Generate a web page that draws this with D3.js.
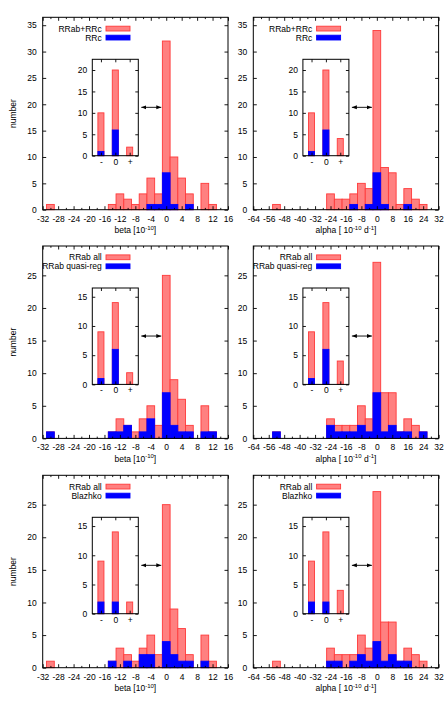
<!DOCTYPE html>
<html>
<head>
<meta charset="utf-8">
<script src="https://cdn.jsdelivr.net/npm/d3@7"></script>
<style>
body { margin: 0; background: #fff; }
svg text { font-family: "Liberation Sans", Arial, Helvetica, sans-serif; }
</style>
</head>
<body>
<svg id="chart" width="447" height="704"></svg>
<script>
// histogram bins (beta bins are 2 wide, alpha bins 4 wide)
var betaCenters = [-30, -14, -12, -10, -8, -6, -4, -2, 0, 2, 4, 6, 10, 12];
var betaAll     = [1, 1, 3, 2, 1, 3, 6, 3, 32, 10, 6, 3, 5, 1];
var betaRRc     = [0, 0, 0, 0, 0, 0, 1, 1, 7, 1, 0, 1, 0, 0];
var betaRRab    = [1, 1, 3, 2, 1, 3, 5, 2, 25, 9, 6, 2, 5, 1];
var betaQuasi   = [1, 1, 1, 2, 0, 1, 3, 0, 7, 2, 1, 1, 1, 1];
var betaBlazhko = [0, 1, 0, 1, 0, 2, 2, 0, 4, 2, 1, 1, 1, 0];

var alphaCenters = [-52, -24, -20, -16, -12, -8, -4, 0, 4, 8, 12, 16, 20, 24];
var alphaAll     = [1, 3, 2, 2, 3, 5, 4, 34, 8, 7, 1, 4, 2, 1];
var alphaRRc     = [0, 0, 0, 0, 1, 0, 1, 7, 1, 0, 0, 1, 0, 0];
var alphaRRab    = [1, 3, 2, 2, 2, 5, 3, 27, 7, 7, 1, 3, 2, 1];
var alphaQuasi   = [1, 2, 1, 1, 1, 2, 1, 7, 1, 2, 1, 1, 0, 1];
var alphaBlazhko = [0, 1, 1, 0, 1, 2, 1, 4, 1, 2, 1, 1, 0, 0];

// insets: counts of negative / zero / positive
var insetCats = ["-", "0", "+"];
var insetBetaAll = [10, 20, 2],  insetBetaRRc = [1, 6, 0];
var insetAlphaAll = [10, 20, 4], insetAlphaRRc = [1, 6, 0];
var insetBetaRRab = [9, 14, 2],  insetBetaQuasi = [1, 6, 0], insetBetaBlazhko = [2, 2, 0];
var insetAlphaRRab = [9, 14, 4], insetAlphaQuasi = [1, 6, 0], insetAlphaBlazhko = [2, 2, 0];

// tick labels
var betaTicks  = [-32, -28, -24, -20, -16, -12, -8, -4, 0, 4, 8, 12, 16];
var betaMinor  = [-30, -26, -22, -18, -14, -10, -6, -2, 2, 6, 10, 14];
var alphaTicks = [-64, -56, -48, -40, -32, -24, -16, -8, 0, 8, 16, 24, 32];
var alphaMinor = [-60, -52, -44, -36, -28, -20, -12, -4, 4, 12, 20, 28];
var yTicksTop = [0, 5, 10, 15, 20, 25, 30, 35];
var yTicksLow = [0, 5, 10, 15, 20, 25];
var insetTicksTop = [0, 5, 10, 15, 20];
var insetTicksLow = [0, 5, 10, 15];

var colLeft = [42.7, 253.3];
var rowTop = [17.3, 246, 475.3];
var plotW = 185.3, plotH = 192.4;
var fontSize = 8.5;
var redFill = "#ff8080", redLine = "#ff3a3a", blue = "#0000ff";

var svg = d3.select("#chart");

svg.append("defs").append("marker")
    .attr("id", "head")
    .attr("viewBox", "0 0 6 6")
    .attr("refX", 6).attr("refY", 3)
    .attr("markerWidth", 5).attr("markerHeight", 5)
    .attr("markerUnits", "userSpaceOnUse")
    .attr("orient", "auto-start-reverse")
  .append("path")
    .attr("d", "M0,0.6 L6,3 L0,5.4 z")
    .attr("fill", "#000");

var panels = [
  {col: 0, row: 0, kind: "beta", red: betaAll, blue: betaRRc, yMax: 36.5, yTicks: yTicksTop,
   iRed: insetBetaAll, iBlue: insetBetaRRc, iMax: 22.5, iTicks: insetTicksTop, names: ["RRab+RRc", "RRc"]},
  {col: 1, row: 0, kind: "alpha", red: alphaAll, blue: alphaRRc, yMax: 36.5, yTicks: yTicksTop,
   iRed: insetAlphaAll, iBlue: insetAlphaRRc, iMax: 22.5, iTicks: insetTicksTop, names: ["RRab+RRc", "RRc"]},
  {col: 0, row: 1, kind: "beta", red: betaRRab, blue: betaQuasi, yMax: 29.5, yTicks: yTicksLow,
   iRed: insetBetaRRab, iBlue: insetBetaQuasi, iMax: 16.5, iTicks: insetTicksLow, names: ["RRab all", "RRab quasi-reg"]},
  {col: 1, row: 1, kind: "alpha", red: alphaRRab, blue: alphaQuasi, yMax: 29.5, yTicks: yTicksLow,
   iRed: insetAlphaRRab, iBlue: insetAlphaQuasi, iMax: 16.5, iTicks: insetTicksLow, names: ["RRab all", "RRab quasi-reg"]},
  {col: 0, row: 2, kind: "beta", red: betaRRab, blue: betaBlazhko, yMax: 29.5, yTicks: yTicksLow,
   iRed: insetBetaRRab, iBlue: insetBetaBlazhko, iMax: 16.5, iTicks: insetTicksLow, names: ["RRab all", "Blazhko"]},
  {col: 1, row: 2, kind: "alpha", red: alphaRRab, blue: alphaBlazhko, yMax: 29.5, yTicks: yTicksLow,
   iRed: insetAlphaRRab, iBlue: insetAlphaBlazhko, iMax: 16.5, iTicks: insetTicksLow, names: ["RRab all", "Blazhko"]}
];

var styleAxis = function(sel) {
    sel.select(".domain").remove();
    sel.attr("font-size", fontSize).attr("font-family", null);
    sel.selectAll("line").attr("stroke", "#000").attr("stroke-width", 0.9);
    sel.selectAll("text").attr("fill", "#000");
};

var drawBars = function(g, centers, counts, bw, x, y, fill, stroke) {
    var rows = centers.map(function(c, i) { return {c: c, n: counts[i]}; })
                      .filter(function(d) { return d.n > 0; });
    g.append("g").selectAll("rect")
        .data(rows)
        .enter()
        .append("rect")
        .attr("x", function(d) { return x(d.c - bw / 2); })
        .attr("width", function(d) { return x(d.c + bw / 2) - x(d.c - bw / 2); })
        .attr("y", function(d) { return y(d.n); })
        .attr("height", function(d) { return y(0) - y(d.n); })
        .attr("fill", fill)
        .attr("stroke", stroke)
        .attr("stroke-width", 0.9);
};

var drawPanel = function(p) {
    var left = colLeft[p.col], top = rowTop[p.row];
    var isBeta = p.kind == "beta";
    var centers = isBeta ? betaCenters : alphaCenters;
    var bw = isBeta ? 2 : 4;
    var x = d3.scaleLinear().domain(isBeta ? [-32, 16] : [-64, 32]).range([left, left + plotW]);
    var y = d3.scaleLinear().domain([0, p.yMax]).range([top + plotH, top]);
    var g = svg.append("g");

    drawBars(g, centers, p.red, bw, x, y, redFill, redLine);
    drawBars(g, centers, p.blue, bw, x, y, blue, blue);

    // axes, ticks pointing inward like gnuplot
    g.append("g").attr("transform", "translate(0," + (top + plotH) + ")")
        .call(d3.axisBottom(x).tickValues(isBeta ? betaTicks : alphaTicks)
              .tickSize(-3.5).tickPadding(6).tickFormat(function(d) { return String(d); }))
        .call(styleAxis);
    g.append("g").attr("transform", "translate(0," + (top + plotH) + ")")
        .call(d3.axisBottom(x).tickValues(isBeta ? betaMinor : alphaMinor).tickSize(-1.8).tickFormat(""))
        .call(styleAxis);
    g.append("g").attr("transform", "translate(0," + top + ")")
        .call(d3.axisTop(x).tickValues(isBeta ? betaTicks : alphaTicks).tickSize(-3.5).tickFormat(""))
        .call(styleAxis);
    g.append("g").attr("transform", "translate(0," + top + ")")
        .call(d3.axisTop(x).tickValues(isBeta ? betaMinor : alphaMinor).tickSize(-1.8).tickFormat(""))
        .call(styleAxis);
    g.append("g").attr("transform", "translate(" + left + ",0)")
        .call(d3.axisLeft(y).tickValues(p.yTicks).tickSize(-3.5).tickPadding(6))
        .call(styleAxis);
    g.append("g").attr("transform", "translate(" + (left + plotW) + ",0)")
        .call(d3.axisRight(y).tickValues(p.yTicks).tickSize(-3.5).tickFormat(""))
        .call(styleAxis);

    g.append("rect")
        .attr("x", left).attr("y", top)
        .attr("width", plotW).attr("height", plotH)
        .attr("fill", "none").attr("stroke", "#000").attr("stroke-width", 1);

    // legend
    var leg = g.append("g").attr("font-size", fontSize);
    p.names.forEach(function(name, i) {
        var cy = top + 11.3 + i * 9;
        leg.append("text")
            .attr("x", left + 59).attr("y", cy).attr("dy", "0.35em")
            .attr("text-anchor", "end")
            .text(name);
        leg.append("rect")
            .attr("x", left + 63.3).attr("y", cy - 2.4)
            .attr("width", 24).attr("height", 4.8)
            .attr("fill", i == 0 ? redFill : blue)
            .attr("stroke", i == 0 ? redLine : blue)
            .attr("stroke-width", 0.9);
    });

    // axis labels
    var xl = g.append("text")
        .attr("x", left + plotW / 2).attr("y", top + plotH + 23.5)
        .attr("text-anchor", "middle")
        .attr("font-size", fontSize);
    if (isBeta) {
        xl.append("tspan").text("beta [10");
        xl.append("tspan").attr("dy", -3.5).attr("font-size", 6).text("-10");
        xl.append("tspan").attr("dy", 3.5).text("]");
    } else {
        xl.append("tspan").text("alpha [ 10");
        xl.append("tspan").attr("dy", -3.5).attr("font-size", 6).text("-10");
        xl.append("tspan").attr("dy", 3.5).text(" d");
        xl.append("tspan").attr("dy", -3.5).attr("font-size", 6).text("-1");
        xl.append("tspan").attr("dy", 3.5).text("]");
    }
    if (p.col == 0) {
        g.append("text")
            .attr("transform", "translate(12.7," + (top + plotH / 2) + ") rotate(-90)")
            .attr("text-anchor", "middle").attr("dy", "0.35em")
            .attr("font-size", fontSize)
            .text("number");
    }

    // double arrow from inset to the zero bin (graph fractions)
    var fx = d3.scaleLinear().domain([0, 1]).range([left, left + plotW]);
    var fy = d3.scaleLinear().domain([0, 1]).range([top + plotH, top]);
    g.append("line")
        .attr("x1", fx(0.532)).attr("x2", fx(0.640))
        .attr("y1", fy(0.532)).attr("y2", fy(0.532))
        .attr("stroke", "#000").attr("stroke-width", 0.9)
        .attr("marker-start", "url(#head)")
        .attr("marker-end", "url(#head)");

    // inset
    var il = left + 49.6, it = top + 42, iw = 46, ih = 96.4;
    var xi = d3.scaleLinear().domain([-1.6, 1.6]).range([il, il + iw]);
    var yi = d3.scaleLinear().domain([0, p.iMax]).range([it + ih, it]);
    var ig = g.append("g");
    ig.append("rect").attr("x", il).attr("y", it).attr("width", iw).attr("height", ih).attr("fill", "#fff");
    drawBars(ig, [-1, 0, 1], p.iRed, 0.42, xi, yi, redFill, redLine);
    drawBars(ig, [-1, 0, 1], p.iBlue, 0.42, xi, yi, blue, blue);
    ig.append("g").attr("transform", "translate(0," + (it + ih) + ")")
        .call(d3.axisBottom(xi).tickValues([-1, 0, 1]).tickSize(-3).tickPadding(3)
              .tickFormat(function(d, i) { return insetCats[i]; }))
        .call(styleAxis);
    ig.append("g").attr("transform", "translate(0," + it + ")")
        .call(d3.axisTop(xi).tickValues([-1, 0, 1]).tickSize(-3).tickFormat(""))
        .call(styleAxis);
    ig.append("g").attr("transform", "translate(" + il + ",0)")
        .call(d3.axisLeft(yi).tickValues(p.iTicks).tickSize(-3).tickPadding(5))
        .call(styleAxis);
    ig.append("g").attr("transform", "translate(" + (il + iw) + ",0)")
        .call(d3.axisRight(yi).tickValues(p.iTicks).tickSize(-3).tickFormat(""))
        .call(styleAxis);
    ig.append("rect").attr("x", il).attr("y", it).attr("width", iw).attr("height", ih)
        .attr("fill", "none").attr("stroke", "#000").attr("stroke-width", 1);
};

panels.forEach(drawPanel);
</script>
</body>
</html>
